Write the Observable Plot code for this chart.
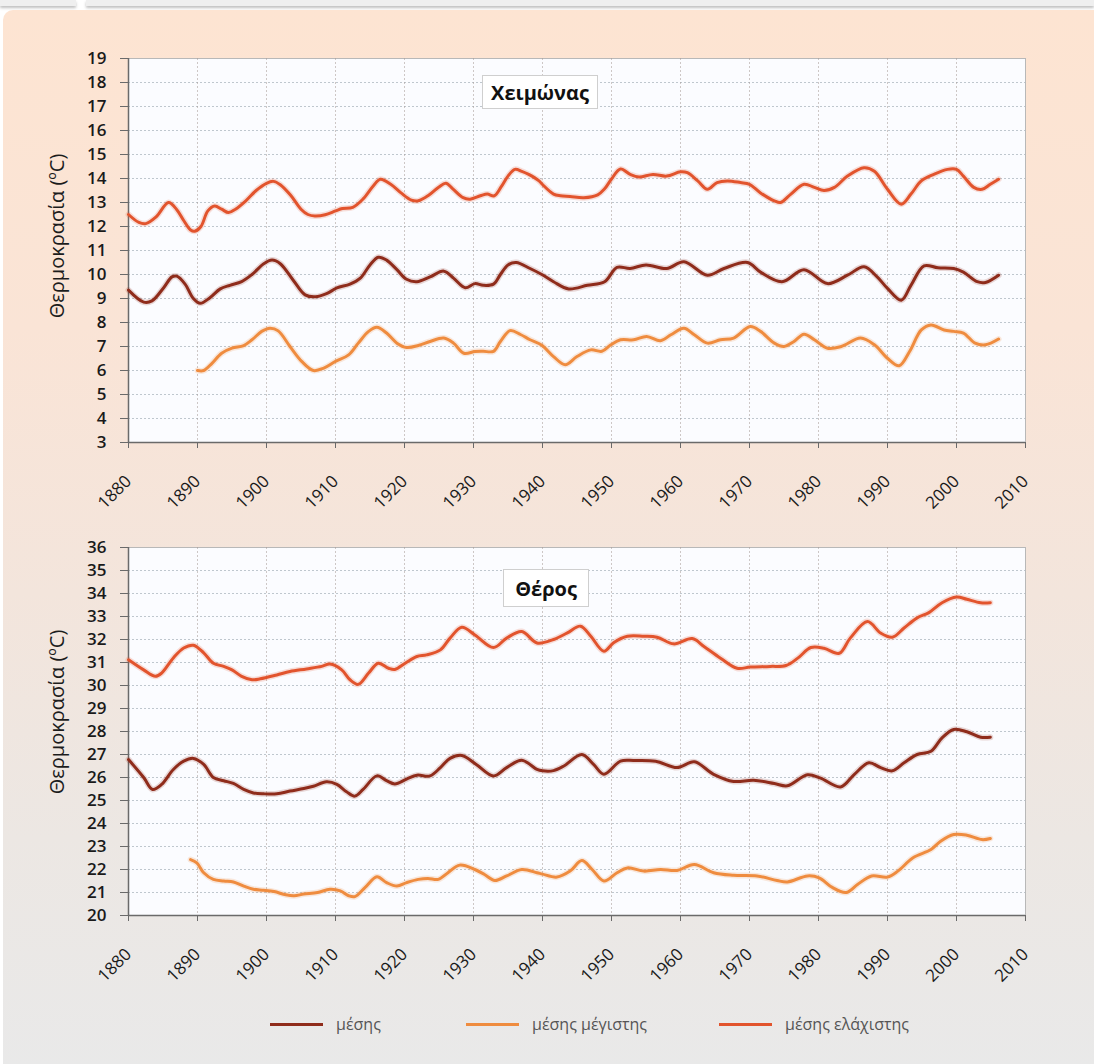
<!DOCTYPE html>
<html>
<head>
<meta charset="utf-8">
<script src="https://cdn.jsdelivr.net/npm/d3@7"></script>
<script src="https://cdn.jsdelivr.net/npm/@observablehq/plot@0.6"></script>
<style>
  html, body { margin: 0; padding: 0; width: 1094px; height: 1064px; overflow: hidden; background: #ffffff; font-family: "Open Sans", sans-serif; }
  .tab { position: absolute; top: 0; height: 6px; background: #efefef; box-shadow: 0 2px 3px rgba(0,0,0,0.25); }
  #panel { position: absolute; left: 3px; top: 10px; width: 1100px; height: 1060px; border-radius: 10px 0 0 0;
           background: linear-gradient(to bottom, #fde4d2 0%, #fae4d6 30%, #f3e5dc 55%, #ece7e3 78%, #e9e9e9 100%); }
  .chart { position: absolute; left: 0; }
  .ylabel { position: absolute; font-size: 20px; color: #1c1c1c; white-space: nowrap; transform: translate(-50%, -50%) rotate(-90deg); }
  .titlebox { position: absolute; background: #ffffff; border: 1px solid #cfcfcf; font-weight: 700; font-size: 20px; color: #111;
              display: flex; align-items: center; justify-content: center; box-sizing: border-box; }
  .legend { position: absolute; top: 1013px; left: 0; font-size: 16px; color: #555; }
  .legend .item { position: absolute; display: flex; align-items: center; white-space: nowrap; }
  .legend .sw { display: inline-block; width: 53px; height: 3px; margin-right: 13px; }
</style>
</head>
<body>
<div class="tab" style="left:0;width:76px"></div>
<div class="tab" style="left:86px;width:1008px"></div>
<div id="panel"></div>
<div id="c1" class="chart" style="top:40px"></div>
<div id="c2" class="chart" style="top:527px"></div>
<div class="ylabel" style="left:56px;top:236px">Θερμοκρασία (ºC)</div>
<div class="ylabel" style="left:56px;top:712px">Θερμοκρασία (ºC)</div>
<div class="titlebox" style="left:482px;top:75px;width:116px;height:34px">Χειμώνας</div>
<div class="titlebox" style="left:503px;top:569px;width:86px;height:38px">Θέρος</div>
<div class="legend" id="legend"></div>
<script>
// ---- Data ----
const seriesNames = ["μέσης", "μέσης μέγιστης", "μέσης ελάχιστης"];
const seriesColors = ["#8f2c1b", "#ef8c3f", "#e2542d"];
const decadeTicks = [1880,1890,1900,1910,1920,1930,1940,1950,1960,1970,1980,1990,2000,2010];
const winterTicks = [3,4,5,6,7,8,9,10,11,12,13,14,15,16,17,18,19];
const summerTicks = [20,21,22,23,24,25,26,27,28,29,30,31,32,33,34,35,36];

// Winter (Χειμώνας) – [year, °C]
const winterMean = [[1880,9.35],[1882.2,8.85],[1883.4,8.9],[1885.1,9.45],[1886.3,9.9],[1887,9.93],[1888.2,9.6],[1889.4,9.0],[1890.4,8.8],[1891.8,9.03],[1893.3,9.4],[1894.7,9.55],[1896.4,9.7],[1897.9,10.0],[1899.6,10.45],[1900.8,10.6],[1902,10.45],[1903.9,9.75],[1905.6,9.15],[1907.1,9.07],[1908.7,9.2],[1910.2,9.44],[1912.1,9.6],[1913.6,9.85],[1915,10.4],[1916.2,10.72],[1917.4,10.6],[1918.9,10.2],[1920.3,9.8],[1921.8,9.7],[1923.7,9.9],[1925.7,10.14],[1927.1,9.85],[1928.8,9.45],[1930.2,9.62],[1931.4,9.55],[1932.9,9.6],[1933.9,10.0],[1935,10.4],[1936.2,10.5],[1938.2,10.25],[1939.9,10.0],[1941.6,9.7],[1943.8,9.4],[1946.5,9.55],[1949,9.7],[1950.8,10.3],[1952.7,10.25],[1955,10.4],[1958,10.25],[1960.5,10.53],[1963.9,9.97],[1966.3,10.25],[1969.7,10.5],[1971.6,10.1],[1974.7,9.7],[1977.9,10.2],[1981.3,9.62],[1984.2,9.97],[1986.6,10.32],[1988.5,9.9],[1990,9.42],[1992,8.93],[1993.4,9.55],[1995.3,10.36],[1997.3,10.28],[1999.6,10.25],[2001,10.1],[2003,9.7],[2004.2,9.67],[2006.1,9.97]];
const winterMax = [[1890,6.0],[1890.9,6.0],[1892.1,6.3],[1893.5,6.72],[1895,6.93],[1896.7,7.04],[1897.9,7.28],[1899.3,7.63],[1900.5,7.76],[1901.7,7.65],[1903.4,7.0],[1905.1,6.38],[1906.8,6.0],[1908.3,6.1],[1910,6.38],[1911.9,6.65],[1913.3,7.14],[1914.8,7.63],[1916,7.8],[1917.4,7.56],[1918.9,7.14],[1920.3,6.96],[1922,7.04],[1923.7,7.21],[1925.7,7.35],[1927.1,7.14],[1928.6,6.72],[1930.2,6.79],[1931.4,6.8],[1932.9,6.8],[1933.9,7.21],[1935.3,7.66],[1936.8,7.5],[1938.2,7.28],[1939.9,7.05],[1941.6,6.58],[1943.3,6.24],[1945,6.58],[1947,6.86],[1948.6,6.8],[1949.9,7.07],[1951.3,7.28],[1953.2,7.28],[1955.1,7.42],[1957.1,7.24],[1958.6,7.49],[1960.5,7.76],[1962,7.49],[1963.9,7.14],[1965.8,7.28],[1967.7,7.35],[1970.1,7.83],[1971.6,7.63],[1973.6,7.14],[1975,7.0],[1976.4,7.2],[1977.9,7.51],[1979.4,7.28],[1981.3,6.93],[1983.3,7.0],[1986.1,7.35],[1988.1,7.07],[1990,6.51],[1991.7,6.2],[1993.2,6.79],[1994.9,7.69],[1996.3,7.9],[1998.2,7.69],[1999.6,7.63],[2001,7.56],[2002.7,7.14],[2004.2,7.07],[2006.1,7.31]];
const winterMin = [[1880,12.5],[1881.5,12.17],[1882.5,12.12],[1884,12.4],[1885.8,13.0],[1887,12.7],[1888,12.25],[1889,11.85],[1889.6,11.8],[1890.5,12.0],[1891.5,12.65],[1892.5,12.85],[1893.5,12.72],[1894.5,12.58],[1895.5,12.72],[1897,13.07],[1898.5,13.5],[1900,13.8],[1901,13.88],[1902,13.74],[1903.5,13.3],[1905,12.72],[1906,12.5],[1907,12.44],[1908.5,12.49],[1910,12.65],[1911,12.75],[1912.5,12.8],[1914,13.15],[1915.5,13.7],[1916.5,13.97],[1918,13.76],[1919.5,13.4],[1921,13.1],[1922,13.07],[1923.5,13.3],[1925,13.65],[1926,13.8],[1927,13.57],[1928.5,13.2],[1929.5,13.14],[1931,13.28],[1932,13.35],[1933,13.28],[1934,13.65],[1935,14.1],[1936,14.38],[1937,14.3],[1938,14.17],[1939.5,13.9],[1940,13.75],[1941.6,13.35],[1942.6,13.28],[1944,13.25],[1946,13.2],[1948,13.32],[1949,13.57],[1950,13.98],[1951.3,14.4],[1952.7,14.17],[1954,14.06],[1956,14.17],[1958,14.1],[1960,14.28],[1961,14.24],[1962.5,13.9],[1963.9,13.55],[1965.3,13.83],[1966.8,13.9],[1968.7,13.83],[1970,13.76],[1971.6,13.4],[1973.6,13.07],[1974.5,13.0],[1976,13.35],[1977.9,13.76],[1979.4,13.63],[1980.8,13.5],[1982.3,13.63],[1984.2,14.1],[1986.6,14.45],[1988.1,14.3],[1990,13.55],[1992,12.93],[1993.4,13.35],[1994.9,13.9],[1996.7,14.17],[1998.7,14.38],[2000,14.38],[2001,14.1],[2002.5,13.63],[2003.7,13.55],[2004.9,13.76],[2006.1,13.97]];

// Summer (Θέρος) – [year, °C]
const summerMean = [[1880,26.78],[1882.2,26.0],[1883.5,25.48],[1884.8,25.7],[1886.5,26.35],[1888,26.71],[1889.4,26.83],[1890.9,26.57],[1892.3,26.0],[1893.8,25.86],[1895.2,25.74],[1896.7,25.48],[1898.1,25.33],[1899.6,25.29],[1901.5,25.29],[1903.4,25.41],[1905.4,25.52],[1906.8,25.62],[1908.7,25.81],[1910.2,25.7],[1911.6,25.38],[1912.8,25.19],[1914,25.48],[1916,26.07],[1917.4,25.86],[1918.6,25.72],[1920.3,25.93],[1921.8,26.1],[1923.7,26.07],[1925.2,26.43],[1926.6,26.83],[1928.3,26.96],[1930.4,26.57],[1932.9,26.07],[1934.8,26.43],[1937,26.75],[1939.2,26.35],[1940,26.29],[1941.6,26.3],[1943.1,26.5],[1945.7,27.0],[1947.4,26.57],[1948.9,26.14],[1951.3,26.71],[1953.2,26.74],[1956.4,26.71],[1959.5,26.43],[1962,26.68],[1964.8,26.14],[1967.7,25.83],[1970.6,25.88],[1973.6,25.74],[1975.5,25.64],[1978.4,26.12],[1980.3,25.97],[1983.2,25.59],[1985.2,26.14],[1987.3,26.64],[1989,26.43],[1990.7,26.29],[1992.4,26.64],[1994.3,27.0],[1996.3,27.14],[1997.9,27.72],[1999.6,28.09],[2001.5,27.99],[2003.5,27.75],[2004.9,27.75]];
const summerMax = [[1889,22.43],[1889.9,22.29],[1890.9,21.86],[1892.3,21.57],[1893.8,21.5],[1895.2,21.46],[1896.7,21.28],[1898.1,21.14],[1899.6,21.1],[1901.1,21.04],[1902.8,20.9],[1904,20.86],[1905.4,20.93],[1907.4,21.0],[1909.2,21.14],[1910.7,21.07],[1911.9,20.86],[1912.8,20.82],[1914.3,21.22],[1916,21.68],[1917.4,21.43],[1918.9,21.28],[1920.3,21.43],[1922,21.57],[1923.4,21.61],[1924.9,21.57],[1926.3,21.86],[1928,22.19],[1930.2,22.0],[1931.6,21.78],[1933.1,21.52],[1934.8,21.72],[1937,22.0],[1939.2,21.86],[1940,21.8],[1942.1,21.67],[1944,21.93],[1945.7,22.39],[1947.2,22.0],[1948.9,21.5],[1950.8,21.86],[1952.3,22.07],[1954.7,21.93],[1957.1,22.0],[1959.5,21.96],[1962,22.22],[1964.8,21.86],[1967.7,21.75],[1971.1,21.72],[1974,21.52],[1975.5,21.46],[1978.4,21.72],[1980.1,21.64],[1982,21.22],[1984,21.0],[1985.7,21.36],[1987.7,21.72],[1990,21.67],[1991.5,21.93],[1993.7,22.51],[1996.3,22.87],[1997.7,23.23],[1999.6,23.52],[2001.5,23.49],[2003.7,23.3],[2004.9,23.35]];
const summerMin = [[1880,31.12],[1882.2,30.68],[1883.9,30.4],[1884.8,30.54],[1886.5,31.2],[1888,31.63],[1889.4,31.75],[1890.9,31.42],[1892.3,30.97],[1893.8,30.83],[1895,30.68],[1896.4,30.4],[1897.9,30.25],[1899.1,30.29],[1901.5,30.46],[1903.4,30.61],[1905.8,30.72],[1908,30.83],[1909.2,30.93],[1910.9,30.68],[1912.1,30.25],[1913.3,30.05],[1914.8,30.54],[1916.2,30.97],[1917.7,30.75],[1918.6,30.7],[1920.1,30.97],[1921.8,31.26],[1923.2,31.33],[1925.2,31.55],[1926.6,32.06],[1928.3,32.53],[1930.2,32.2],[1932.9,31.65],[1934.8,32.06],[1937,32.35],[1939.2,31.85],[1941.6,32.0],[1943.6,32.29],[1945.5,32.58],[1947,32.14],[1948.9,31.49],[1950.3,31.86],[1952.3,32.14],[1954.7,32.14],[1956.6,32.1],[1959,31.81],[1961.7,32.04],[1963.4,31.7],[1965.8,31.19],[1968.2,30.75],[1970.1,30.8],[1973,30.83],[1975.3,30.87],[1977,31.19],[1978.9,31.65],[1980.8,31.62],[1983,31.4],[1984.6,32.06],[1987.1,32.78],[1989,32.28],[1990.7,32.1],[1992.4,32.5],[1994.3,32.94],[1996,33.17],[1997.9,33.6],[2000,33.85],[2001.5,33.75],[2003.5,33.6],[2004.9,33.6]];

function chart(yTicks, seriesData, frameHeight, marginTop) {
  const lo = yTicks[0], hi = yTicks[yTicks.length - 1];
  const lineMarks = [];
  seriesData.forEach((data, i) => {
    lineMarks.push(Plot.line(data, {x: d => d[0], y: d => d[1], stroke: seriesColors[i], strokeWidth: 6, strokeOpacity: 0.18, curve: "catmull-rom"}));
    lineMarks.push(Plot.line(data, {x: d => d[0], y: d => d[1], stroke: seriesColors[i], strokeWidth: 3, curve: "catmull-rom"}));
  });
  return Plot.plot({
    width: 1094,
    height: marginTop + frameHeight + 80,
    marginLeft: 128, marginRight: 69, marginTop, marginBottom: 80,
    style: {background: "transparent", fontFamily: "Open Sans", fontSize: "17px", color: "#1a1a1a", overflow: "visible"},
    x: {domain: [1880, 2010]},
    y: {domain: [lo, hi]},
    marks: [
      Plot.frame({fill: "#fbfcff", stroke: "#b8b8b8"}),
      Plot.gridY(yTicks.slice(1, -1), {stroke: "#8e9aa6", strokeOpacity: 0.55, strokeDasharray: "2,2"}),
      Plot.gridX(decadeTicks.slice(1, -1), {stroke: "#a89a98", strokeOpacity: 0.55, strokeDasharray: "2,2"}),
      Plot.ruleX([1880], {stroke: "#6a6a6a", strokeWidth: 1.5}),
      Plot.ruleY([lo], {stroke: "#6a6a6a", strokeWidth: 1.5}),
      Plot.axisY({ticks: yTicks, tickSize: 8, tickPadding: 14, fontSize: 17, fontWeight: 600, label: null, stroke: "#6a6a6a"}),
      Plot.axisX({ticks: decadeTicks, tickFormat: d => String(d), tickRotate: -45, tickSize: 6, tickPadding: 30, fontSize: 17, label: null, stroke: "#6a6a6a"}),
      ...lineMarks
    ]
  });
}

document.getElementById("c1").appendChild(chart(winterTicks, [winterMean, winterMax, winterMin], 384, 18));
document.getElementById("c2").appendChild(chart(summerTicks, [summerMean, summerMax, summerMin], 368, 20));

// Legend
const legendX = [270, 466, 719];
const legend = document.getElementById("legend");
seriesNames.forEach((name, i) => {
  const item = document.createElement("div");
  item.className = "item";
  item.style.left = legendX[i] + "px";
  item.innerHTML = `<span class="sw" style="background:${seriesColors[i]}"></span><span>${name}</span>`;
  legend.appendChild(item);
});
</script>
</body>
</html>
